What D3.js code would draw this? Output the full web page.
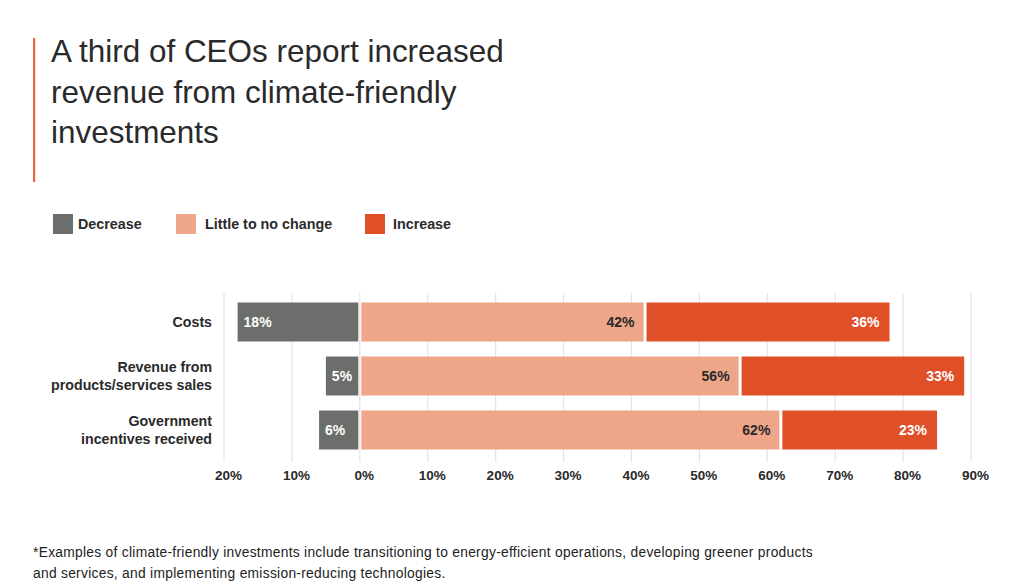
<!DOCTYPE html>
<html><head><meta charset="utf-8">
<script src="https://cdn.jsdelivr.net/npm/d3@7"></script>
<style>
html,body{margin:0;padding:0;background:#fff;}
svg{display:block;}
text{font-family:"Liberation Sans",Arial,Helvetica,sans-serif;}
</style></head>
<body>
<svg id="chart" width="1024" height="588"></svg>
<script>
const titleLines = ["A third of CEOs report increased","revenue from climate-friendly","investments"];
const categories = ["Costs","Revenue from products/services sales","Government incentives received"];
const categoryLines = [["Costs"],["Revenue from","products/services sales"],["Government","incentives received"]];
const decrease = [18,5,6];
const noChange = [42,56,62];
const increase = [36,33,23];
const seriesNames = ["Decrease","Little to no change","Increase"];
const tickValues = [-20,-10,0,10,20,30,40,50,60,70,80,90];
const footnoteLines = ["*Examples of climate-friendly investments include transitioning to energy-efficient operations, developing greener products","and services, and implementing emission-reducing technologies."];

const colors = {"Decrease":"#6b6e6a","Little to no change":"#eea588","Increase":"#df5029"};
const svg = d3.select("#chart");

// Title
svg.append("rect").attr("x",33).attr("y",38).attr("width",2.2).attr("height",144).attr("fill","#e8693f");
const title = svg.append("g");
titleLines.forEach((t,i)=>{
  title.append("text").attr("x",51).attr("y",62+i*40.5).attr("font-size",30)
    .attr("fill","#2a2a2a").text(t);
});
const tw = title.select("text").node().getComputedTextLength();
title.selectAll("text").attr("font-size",30*453/tw);

// Legend
const legendX = [53,176,365];
const legendTextX = [78,205,393];
seriesNames.forEach((s,i)=>{
  svg.append("rect").attr("x",legendX[i]).attr("y",214).attr("width",20).attr("height",20).attr("fill",colors[s]);
  svg.append("text").attr("x",legendTextX[i]).attr("y",229).attr("font-size",14.3).attr("font-weight","bold")
    .attr("fill","#2a2a2a").text(s);
});

// Scales
const x = d3.scaleLinear().domain([-20,90]).range([224,971]);
const y = d3.scaleBand().domain(categories).range([322-27,430+27]).paddingInner(0.278).paddingOuter(0.139);

// Grid
svg.append("g").selectAll("line").data(tickValues).join("line")
  .attr("x1",d=>x(d)).attr("x2",d=>x(d)).attr("y1",293).attr("y2",462)
  .attr("stroke","#e6e4e2").attr("stroke-width",1.2);

// Axis labels
const axis = d3.axisBottom(x).tickValues(tickValues).tickSize(0).tickFormat(d=>Math.abs(d)+"%");
const ax = svg.append("g").attr("transform","translate(4,467)").call(axis);
ax.select(".domain").remove();
ax.selectAll("text").attr("font-size",13.5).attr("font-weight","bold").attr("fill","#2a2a2a")
  .attr("font-family","Liberation Sans, Arial, sans-serif").attr("dy","0.71em");

// Bars
const gap = 1.5;
const rows = categories.map((c,i)=>({c, d:decrease[i], n:noChange[i], inc:increase[i]}));
const bh = y.bandwidth();
const g = svg.append("g");
rows.forEach(r=>{
  const yy = y(r.c);
  const cy = yy+bh/2;
  g.append("rect").attr("x",x(-r.d)).attr("y",yy).attr("width",x(0)-gap-x(-r.d)).attr("height",bh).attr("fill",colors["Decrease"]);
  g.append("text").attr("x",x(-r.d)+6).attr("y",cy).attr("dy","0.36em").attr("font-size",14).attr("font-weight","bold")
    .attr("fill","#fff").text(r.d+"%");
  g.append("rect").attr("x",x(0)+gap).attr("y",yy).attr("width",x(r.n)-x(0)-2*gap).attr("height",bh).attr("fill",colors["Little to no change"]);
  g.append("text").attr("x",x(r.n)-gap-9).attr("y",cy).attr("dy","0.36em").attr("text-anchor","end").attr("font-size",14).attr("font-weight","bold")
    .attr("fill","#2a2a2a").text(r.n+"%");
  g.append("rect").attr("x",x(r.n)+gap).attr("y",yy).attr("width",x(r.n+r.inc)-x(r.n)-gap).attr("height",bh).attr("fill",colors["Increase"]);
  g.append("text").attr("x",x(r.n+r.inc)-10).attr("y",cy).attr("dy","0.36em").attr("text-anchor","end").attr("font-size",14).attr("font-weight","bold")
    .attr("fill","#fff").text(r.inc+"%");
});

// Category labels
categories.forEach((c,i)=>{
  const lines = categoryLines[i];
  const cy = y(c)+bh/2;
  lines.forEach((l,j)=>{
    svg.append("text").attr("x",212).attr("y",cy+(j-(lines.length-1)/2)*18).attr("dy","0.36em")
      .attr("text-anchor","end").attr("font-size",14.2).attr("font-weight","bold").attr("fill","#2a2a2a").text(l);
  });
});

// Footnote
const fn = svg.append("g");
footnoteLines.forEach((t,i)=>{
  fn.append("text").attr("x",33).attr("y",557+i*21).attr("font-size",13.8).attr("fill","#222").text(t);
});
const fw = fn.select("text").node().getComputedTextLength();
const nch = footnoteLines[0].length;
fn.selectAll("text").attr("letter-spacing",(780-fw)/nch);
</script>
</body></html>
